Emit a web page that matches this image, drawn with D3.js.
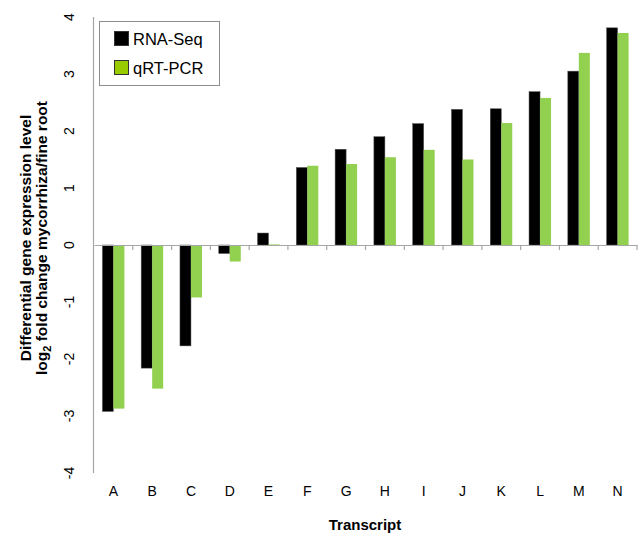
<!DOCTYPE html>
<html>
<head>
<meta charset="utf-8">
<script src="https://cdn.jsdelivr.net/npm/d3@7/dist/d3.min.js"></script>
<style>
  body { margin: 0; background: #fff; }
  svg { display: block; font-family: "Liberation Sans", Arial, sans-serif; }
</style>
</head>
<body>
<svg id="chart" width="643" height="535"></svg>
<script>
// Transcripts and log2 fold change (mycorrhiza vs fine root)
const transcripts = ["A","B","C","D","E","F","G","H","I","J","K","L","M","N"];
const rnaSeq = [-2.92, -2.16, -1.77, -0.15, 0.21, 1.36, 1.68, 1.90, 2.13, 2.38, 2.39, 2.69, 3.05, 3.81];
const qrtPcr = [-2.87, -2.52, -0.92, -0.29, 0.01, 1.39, 1.42, 1.54, 1.67, 1.50, 2.14, 2.58, 3.37, 3.72];
const seriesNames = ["RNA-Seq", "qRT-PCR"];
const yTicks = [-4, -3, -2, -1, 0, 1, 2, 3, 4];

const svg = d3.select("#chart");
const plot = { left: 94, right: 637, top: 17, bottom: 473 };

const x = d3.scaleBand().domain(transcripts).range([plot.left, plot.right]).padding(0);
const y = d3.scaleLinear().domain([-4, 4]).range([plot.bottom, plot.top]);
const barW = 11;

const barColors = ["#000000", "#92d050"];
const seriesData = [rnaSeq, qrtPcr];

// bars
seriesData.forEach((vals, si) => {
  svg.append("g").selectAll("rect")
    .data(vals)
    .join("rect")
    .attr("x", (d, i) => x(transcripts[i]) + x.bandwidth() / 2 - barW + si * barW)
    .attr("y", d => y(Math.max(0, d)))
    .attr("width", barW)
    .attr("height", d => Math.abs(y(d) - y(0)))
    .attr("fill", barColors[si])
    .attr("stroke", si === 0 ? "#555" : "none")
    .attr("stroke-width", 0.5);
});

// y axis line (no tick marks), labels rotated
svg.append("line")
  .attr("x1", plot.left - 0.5).attr("x2", plot.left - 0.5)
  .attr("y1", plot.top).attr("y2", plot.bottom)
  .attr("stroke", "#a6a6a6").attr("stroke-width", 1.2);

svg.append("g").selectAll("text")
  .data(yTicks)
  .join("text")
  .attr("transform", d => `translate(74,${y(d)}) rotate(-90)`)
  .attr("text-anchor", "middle")
  .attr("font-size", 14)
  .attr("fill", "#000")
  .text(d => d);

// zero line with category boundary ticks
const xAxis = d3.axisBottom(x).tickSize(0).tickFormat("");
const gx = svg.append("g").attr("transform", `translate(0,${y(0)})`).call(xAxis);
gx.select(".domain").attr("stroke", "#a6a6a6").attr("stroke-width", 1.2);
svg.append("g").selectAll("line")
  .data(transcripts.slice(1).concat(["end"]))
  .join("line")
  .attr("x1", (d, i) => plot.left + (i + 1) * x.bandwidth())
  .attr("x2", (d, i) => plot.left + (i + 1) * x.bandwidth())
  .attr("y1", y(0)).attr("y2", y(0) + 5)
  .attr("stroke", "#a6a6a6").attr("stroke-width", 1.2);

// category labels below the plot
svg.append("g").selectAll("text")
  .data(transcripts)
  .join("text")
  .attr("x", d => x(d) + x.bandwidth() / 2)
  .attr("y", 496)
  .attr("text-anchor", "middle")
  .attr("font-size", 14)
  .text(d => d);

// axis titles
svg.append("text")
  .attr("x", 365).attr("y", 530)
  .attr("text-anchor", "middle")
  .attr("font-size", 15).attr("font-weight", "bold")
  .text("Transcript");

const yTitle = svg.append("g").attr("transform", "translate(0,238) rotate(-90)");
yTitle.append("text")
  .attr("x", 0).attr("y", 31)
  .attr("text-anchor", "middle")
  .attr("font-size", 15.5).attr("font-weight", "bold")
  .text("Differential gene expression level");
const t2 = yTitle.append("text")
  .attr("x", 0).attr("y", 47)
  .attr("text-anchor", "middle")
  .attr("font-size", 15.5).attr("font-weight", "bold");
t2.append("tspan").text("log");
t2.append("tspan").attr("font-size", 11).attr("dy", 4).text("2");
t2.append("tspan").attr("dy", -4).text(" fold change mycorrhiza/fine root");

// legend
const legend = svg.append("g");
legend.append("rect")
  .attr("x", 99.5).attr("y", 21.5).attr("width", 120).attr("height", 64)
  .attr("fill", "#fff").attr("stroke", "#8c8c8c").attr("stroke-width", 1);
const legendSwatch = ["#000000", "#99cc00"];
seriesNames.forEach((name, i) => {
  legend.append("rect")
    .attr("x", 114.5).attr("y", 31.5 + i * 29).attr("width", 14).attr("height", 14)
    .attr("fill", legendSwatch[i]).attr("stroke", "#333").attr("stroke-width", 1);
  legend.append("text")
    .attr("x", 133).attr("y", 45 + i * 29)
    .attr("font-size", 16.5)
    .text(name);
});
</script>
</body>
</html>
